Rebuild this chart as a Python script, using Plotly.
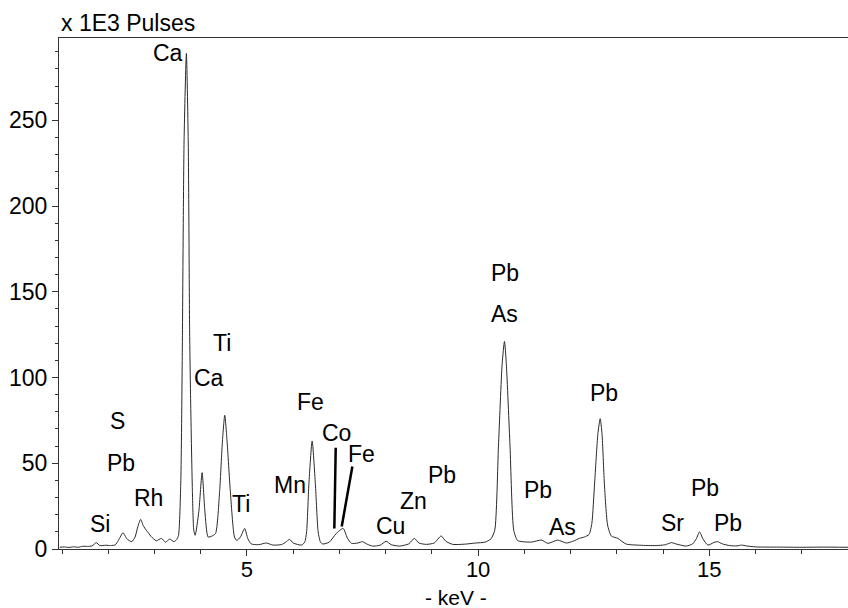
import plotly.graph_objects as go

# Spectrum (energy in keV, counts in 1E3 pulses)
energy_keV = [
    0.95, 1.05, 1.15, 1.25, 1.35, 1.45, 1.55, 1.65, 1.74, 1.82, 1.95, 2.05, 2.15, 2.22, 2.32, 2.40,
    2.51, 2.58, 2.64, 2.70, 2.76, 2.82, 2.88, 2.93, 3.04, 3.15, 3.24, 3.33, 3.42, 3.48,
    3.52, 3.57, 3.60, 3.64, 3.69, 3.73, 3.76, 3.78, 3.82, 3.85, 3.88,
    3.96, 4.03, 4.09, 4.16, 4.24,
    4.32, 4.41, 4.47, 4.52, 4.57, 4.64, 4.73, 4.78,
    4.86, 4.95, 5.02, 5.09,
    5.25, 5.42, 5.56, 5.75, 5.84, 5.92, 6.00, 6.18,
    6.25, 6.29, 6.34, 6.41, 6.48, 6.54, 6.59, 6.64,
    6.78, 6.93, 7.08, 7.17, 7.26, 7.40, 7.50, 7.60, 7.72, 7.88, 8.01, 8.12, 8.30, 8.50, 8.62, 8.72,
    8.88, 9.05, 9.20, 9.30, 9.45, 9.70, 9.95, 10.15,
    10.28, 10.36, 10.44, 10.52, 10.57, 10.61, 10.69, 10.77, 10.85, 10.95, 11.15, 11.37, 11.51,
    11.72, 11.91, 12.05, 12.19, 12.30,
    12.40, 12.46, 12.52, 12.59, 12.64, 12.68, 12.73, 12.80, 12.88, 13.02, 13.20, 13.50, 13.85,
    14.05, 14.18, 14.30, 14.50, 14.64, 14.72, 14.79, 14.86, 14.97, 15.10, 15.18, 15.28, 15.44,
    15.60, 15.70, 15.80, 16.01, 16.5, 17.0, 17.5, 18.0,
]
counts_k = [
    1.0, 1.2, 0.9, 1.3, 1.0, 1.6, 1.5, 1.8, 3.7, 2.0, 2.2, 2.0, 2.4, 5.0, 9.5, 6.0,
    4.3, 7.0, 13.0, 17.3, 13.5, 11.0, 9.0, 7.2, 4.8, 6.2, 4.0, 5.8, 4.3, 5.5,
    8.0, 40.0, 110.0, 238.0, 289.0, 238.0, 128.0, 90.0, 34.0, 11.0, 8.0,
    22.0, 44.5, 22.0, 7.0, 7.5,
    9.0, 34.0, 63.0, 78.0, 63.0, 34.0, 7.0, 5.0,
    7.0, 12.0, 6.0, 3.0,
    2.5, 3.5, 2.3, 2.6, 4.0, 5.6, 3.5, 2.3,
    4.0, 10.0, 38.0, 63.0, 38.0, 10.0, 4.0, 2.9,
    4.0, 9.0, 12.0, 6.5, 3.3, 3.5, 4.3, 2.8, 1.7, 2.2, 4.5, 2.5, 1.7, 3.0, 6.2, 3.5,
    2.7, 3.5, 7.6, 4.5, 2.7, 2.8, 3.5, 4.0,
    6.0, 11.0, 60.0, 108.0, 121.0, 108.0, 60.0, 11.0, 5.0, 4.3, 4.0, 5.2, 3.3,
    5.2, 3.5, 4.5, 6.2, 7.0,
    8.5, 15.0, 38.5, 67.0, 76.0, 67.0, 38.5, 14.0, 7.6, 6.2, 2.9, 2.2, 2.0,
    2.5, 3.7, 2.8, 1.7, 3.0, 6.0, 10.0, 6.0, 2.3, 3.8, 4.3, 3.0, 2.0,
    1.8, 2.3, 1.8, 1.2, 1.1, 1.0, 1.1, 1.0,
]

# Element labels: text, energy position, counts position
label_text = ["Ca", "Ti", "Ca", "S", "Pb", "Rh", "Si", "Ti", "Mn", "Fe", "Co", "Fe",
              "Cu", "Zn", "Pb", "Pb", "As", "Pb", "As", "Pb", "Sr", "Pb", "Pb"]
label_x = [3.29, 4.45, 4.17, 2.19, 2.28, 2.86, 1.83, 4.87, 5.93, 6.38, 6.93, 7.47,
           8.11, 8.60, 9.21, 10.59, 10.57, 11.29, 11.82, 12.73, 14.21, 14.90, 15.41]
label_y = [289.3, 120.3, 99.6, 74.7, 50.0, 29.7, 14.6, 26.2, 37.3, 85.8, 67.9, 55.5,
           13.5, 28.1, 43.4, 160.7, 137.0, 34.6, 13.0, 90.7, 15.4, 35.4, 15.0]

# Leader lines (Co and Fe Kbeta)
leader_x0 = [6.92, 7.28]
leader_y0 = [59.0, 48.1]
leader_x1 = [6.89, 7.05]
leader_y1 = [12.0, 13.1]

y_ticks = [0, 50, 100, 150, 200, 250]
x_ticks = [5, 10, 15]
x_title = "- keV -"
x_title_pos = 9.53
y_title = "x 1E3 Pulses"

FONT = "Liberation Sans, Arial, sans-serif"
FS = 23

fig = go.Figure()
fig.add_trace(go.Scatter(
    x=energy_keV, y=counts_k, mode="lines",
    line=dict(color="#2a2a2a", width=1, shape="spline", smoothing=0.6),
    hoverinfo="skip", showlegend=False,
))

for x0, y0, x1, y1 in zip(leader_x0, leader_y0, leader_x1, leader_y1):
    fig.add_trace(go.Scatter(
        x=[x0, x1], y=[y0, y1], mode="lines",
        line=dict(color="black", width=2.5), hoverinfo="skip", showlegend=False,
    ))

for t, x, y in zip(label_text, label_x, label_y):
    fig.add_annotation(x=x, y=y, xref="x", yref="y", text=t, showarrow=False,
                       font=dict(family=FONT, size=FS, color="black"))

fig.add_annotation(x=0, y=1, xref="paper", yref="paper", xanchor="left", yanchor="bottom",
                   text=y_title, showarrow=False, yshift=0,
                   font=dict(family=FONT, size=FS, color="black"))

fig.add_annotation(x=x_title_pos, y=0, xref="x", yref="paper", xanchor="center", yanchor="middle",
                   text=x_title, showarrow=False, yshift=-48,
                   font=dict(family=FONT, size=21, color="black"))

fig.update_layout(
    width=848, height=608,
    margin=dict(l=59, r=0, t=38, b=59),
    paper_bgcolor="white", plot_bgcolor="white",
    font=dict(family=FONT, size=FS, color="black"),
    xaxis=dict(
        range=[0.935, 18.0], tickvals=x_ticks, ticks="outside", ticklen=6, tickwidth=1,
        tickcolor="#333", showline=True, linecolor="#333", linewidth=1, mirror=True,
        showgrid=False, zeroline=False, ticklabelstandoff=-5,
        minor=dict(dtick=1, tick0=0, ticks="outside", ticklen=4, tickcolor="#333", showgrid=False),
        tickfont=dict(family=FONT, size=22),
    ),
    yaxis=dict(
        range=[0, 298], tickvals=y_ticks, ticks="outside", ticklen=6, tickwidth=1,
        tickcolor="#333", showline=True, linecolor="#333", linewidth=1,
        showgrid=False, zeroline=False,
        minor=dict(dtick=10, tick0=0, ticks="outside", ticklen=3, tickcolor="#333", showgrid=False),
        tickfont=dict(family=FONT, size=FS),
    ),
)

fig.write_html("out.html")
